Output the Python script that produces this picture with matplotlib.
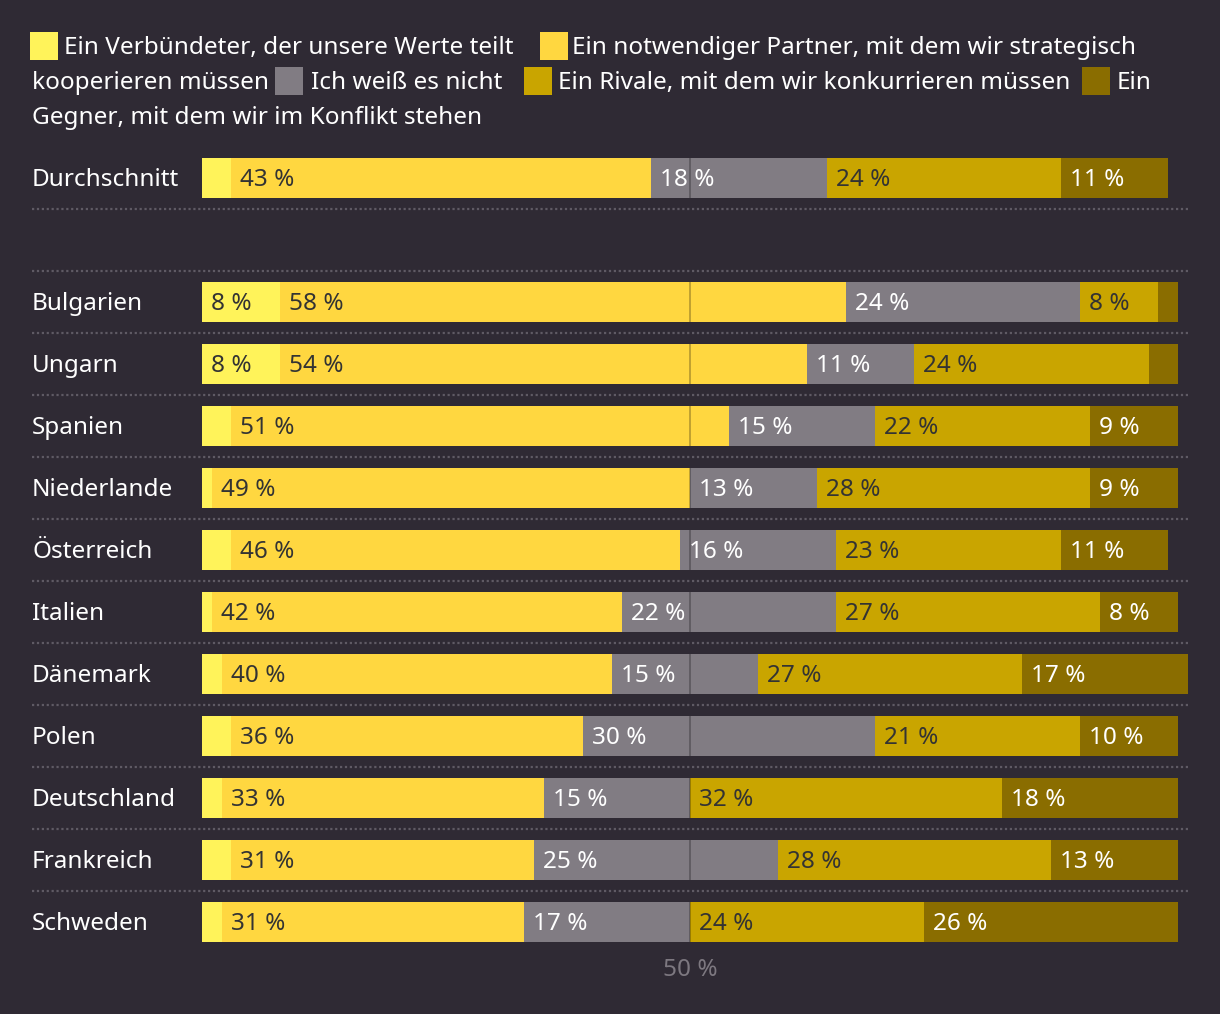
import matplotlib
matplotlib.use("Agg")
import matplotlib.pyplot as plt
from matplotlib.patches import Rectangle

# --- data ---
countries = ["Durchschnitt", "Bulgarien", "Ungarn", "Spanien", "Niederlande",
             "Österreich", "Italien", "Dänemark", "Polen", "Deutschland",
             "Frankreich", "Schweden"]
verbuendeter = [3, 8, 8, 3, 1, 3, 1, 2, 3, 2, 3, 2]
partner = [43, 58, 54, 51, 49, 46, 42, 40, 36, 33, 31, 31]
weiss_nicht = [18, 24, 11, 15, 13, 16, 22, 15, 30, 15, 25, 17]
rivale = [24, 8, 24, 22, 28, 23, 27, 27, 21, 32, 28, 24]
gegner = [11, 2, 3, 9, 9, 11, 8, 17, 10, 18, 13, 26]

series_labels = ["Ein Verbündeter, der unsere Werte teilt",
                 "Ein notwendiger Partner, mit dem wir strategisch kooperieren müssen",
                 "Ich weiß es nicht",
                 "Ein Rivale, mit dem wir konkurrieren müssen",
                 "Ein Gegner, mit dem wir im Konflikt stehen"]

colors = ["#fff35a", "#ffd740", "#817c83", "#c9a500", "#8a6d00"]
text_colors = ["#333333", "#333333", "#ffffff", "#333333", "#ffffff"]
bg = "#2f2a34"
font = ["Noto Sans", "DejaVu Sans"]
plt.rcParams["font.family"] = font
fs = 17.5

W, H = 1220, 1014
fig = plt.figure(figsize=(W / 100, H / 100), dpi=100, facecolor=bg)
ax = fig.add_axes([0, 0, 1, 1])
ax.set_facecolor(bg)
ax.axis("off")

# x in percent: 0 % at px 202, 100 % at px 1178
px_per_pct = (1178 - 202) / 100
ax.set_xlim(-202 / px_per_pct, (W - 202) / px_per_pct)
ax.set_ylim(H, 0)

def px_to_x(px):
    return (px - 202) / px_per_pct

# row positions (pixel y)
row_y = [178] + [302 + 62 * i for i in range(len(countries) - 1)]
bar_h = 40
dy = 2  # text baseline nudge

series = [verbuendeter, partner, weiss_nicht, rivale, gegner]
for i, name in enumerate(countries):
    y = row_y[i]
    left = 0
    for s, vals in enumerate(series):
        v = vals[i]
        ax.barh(y, v, left=left, height=bar_h, color=colors[s], linewidth=0, zorder=2)
        if v >= 5:
            ax.text(left + 9 / px_per_pct, y + dy, f"{v} %", color=text_colors[s],
                    fontsize=fs, va="center", ha="left", zorder=4)
        left += v
    # 50 % marker inside the bar
    ax.plot([50, 50], [y - bar_h / 2, y + bar_h / 2], color="#000000", alpha=0.25,
            lw=1.4, zorder=3, solid_capstyle="butt")
    ax.text(px_to_x(32), y + dy, name, color="#ffffff", fontsize=fs, va="center", ha="left")

# dotted separators
sep_y = [209, 271] + [333 + 62 * i for i in range(len(countries) - 2)]
for yy in sep_y:
    ax.plot([px_to_x(32), px_to_x(1188)], [yy, yy], color="#5f5a64", lw=1.6,
            linestyle=(0, (1, 1.2)), zorder=1)

ax.text(50, 968 + dy, "50 %", color="#7d7880", fontsize=fs, ha="center", va="center")

# legend (wrapped manually)
sq = 28
legend_items = [
    # (square px x, row y, text px x, text, colour index)
    (30, 46, 64, series_labels[0], 0),
    (540, 46, 572, "Ein notwendiger Partner, mit dem wir strategisch", 1),
    (None, 81, 32, "kooperieren müssen", None),
    (275, 81, 311, series_labels[2], 2),
    (524, 81, 558, series_labels[3], 3),
    (1082, 81, 1117, "Ein", 4),
    (None, 116, 32, "Gegner, mit dem wir im Konflikt stehen", None),
]
for sx, ly, tx, txt, ci in legend_items:
    if sx is not None:
        ax.add_patch(Rectangle((px_to_x(sx), ly - sq / 2), sq / px_per_pct, sq,
                               color=colors[ci], linewidth=0))
    ax.text(px_to_x(tx), ly + dy, txt, color="#ffffff", fontsize=fs, va="center", ha="left")

fig.savefig("out.png", dpi=100, facecolor=bg)
